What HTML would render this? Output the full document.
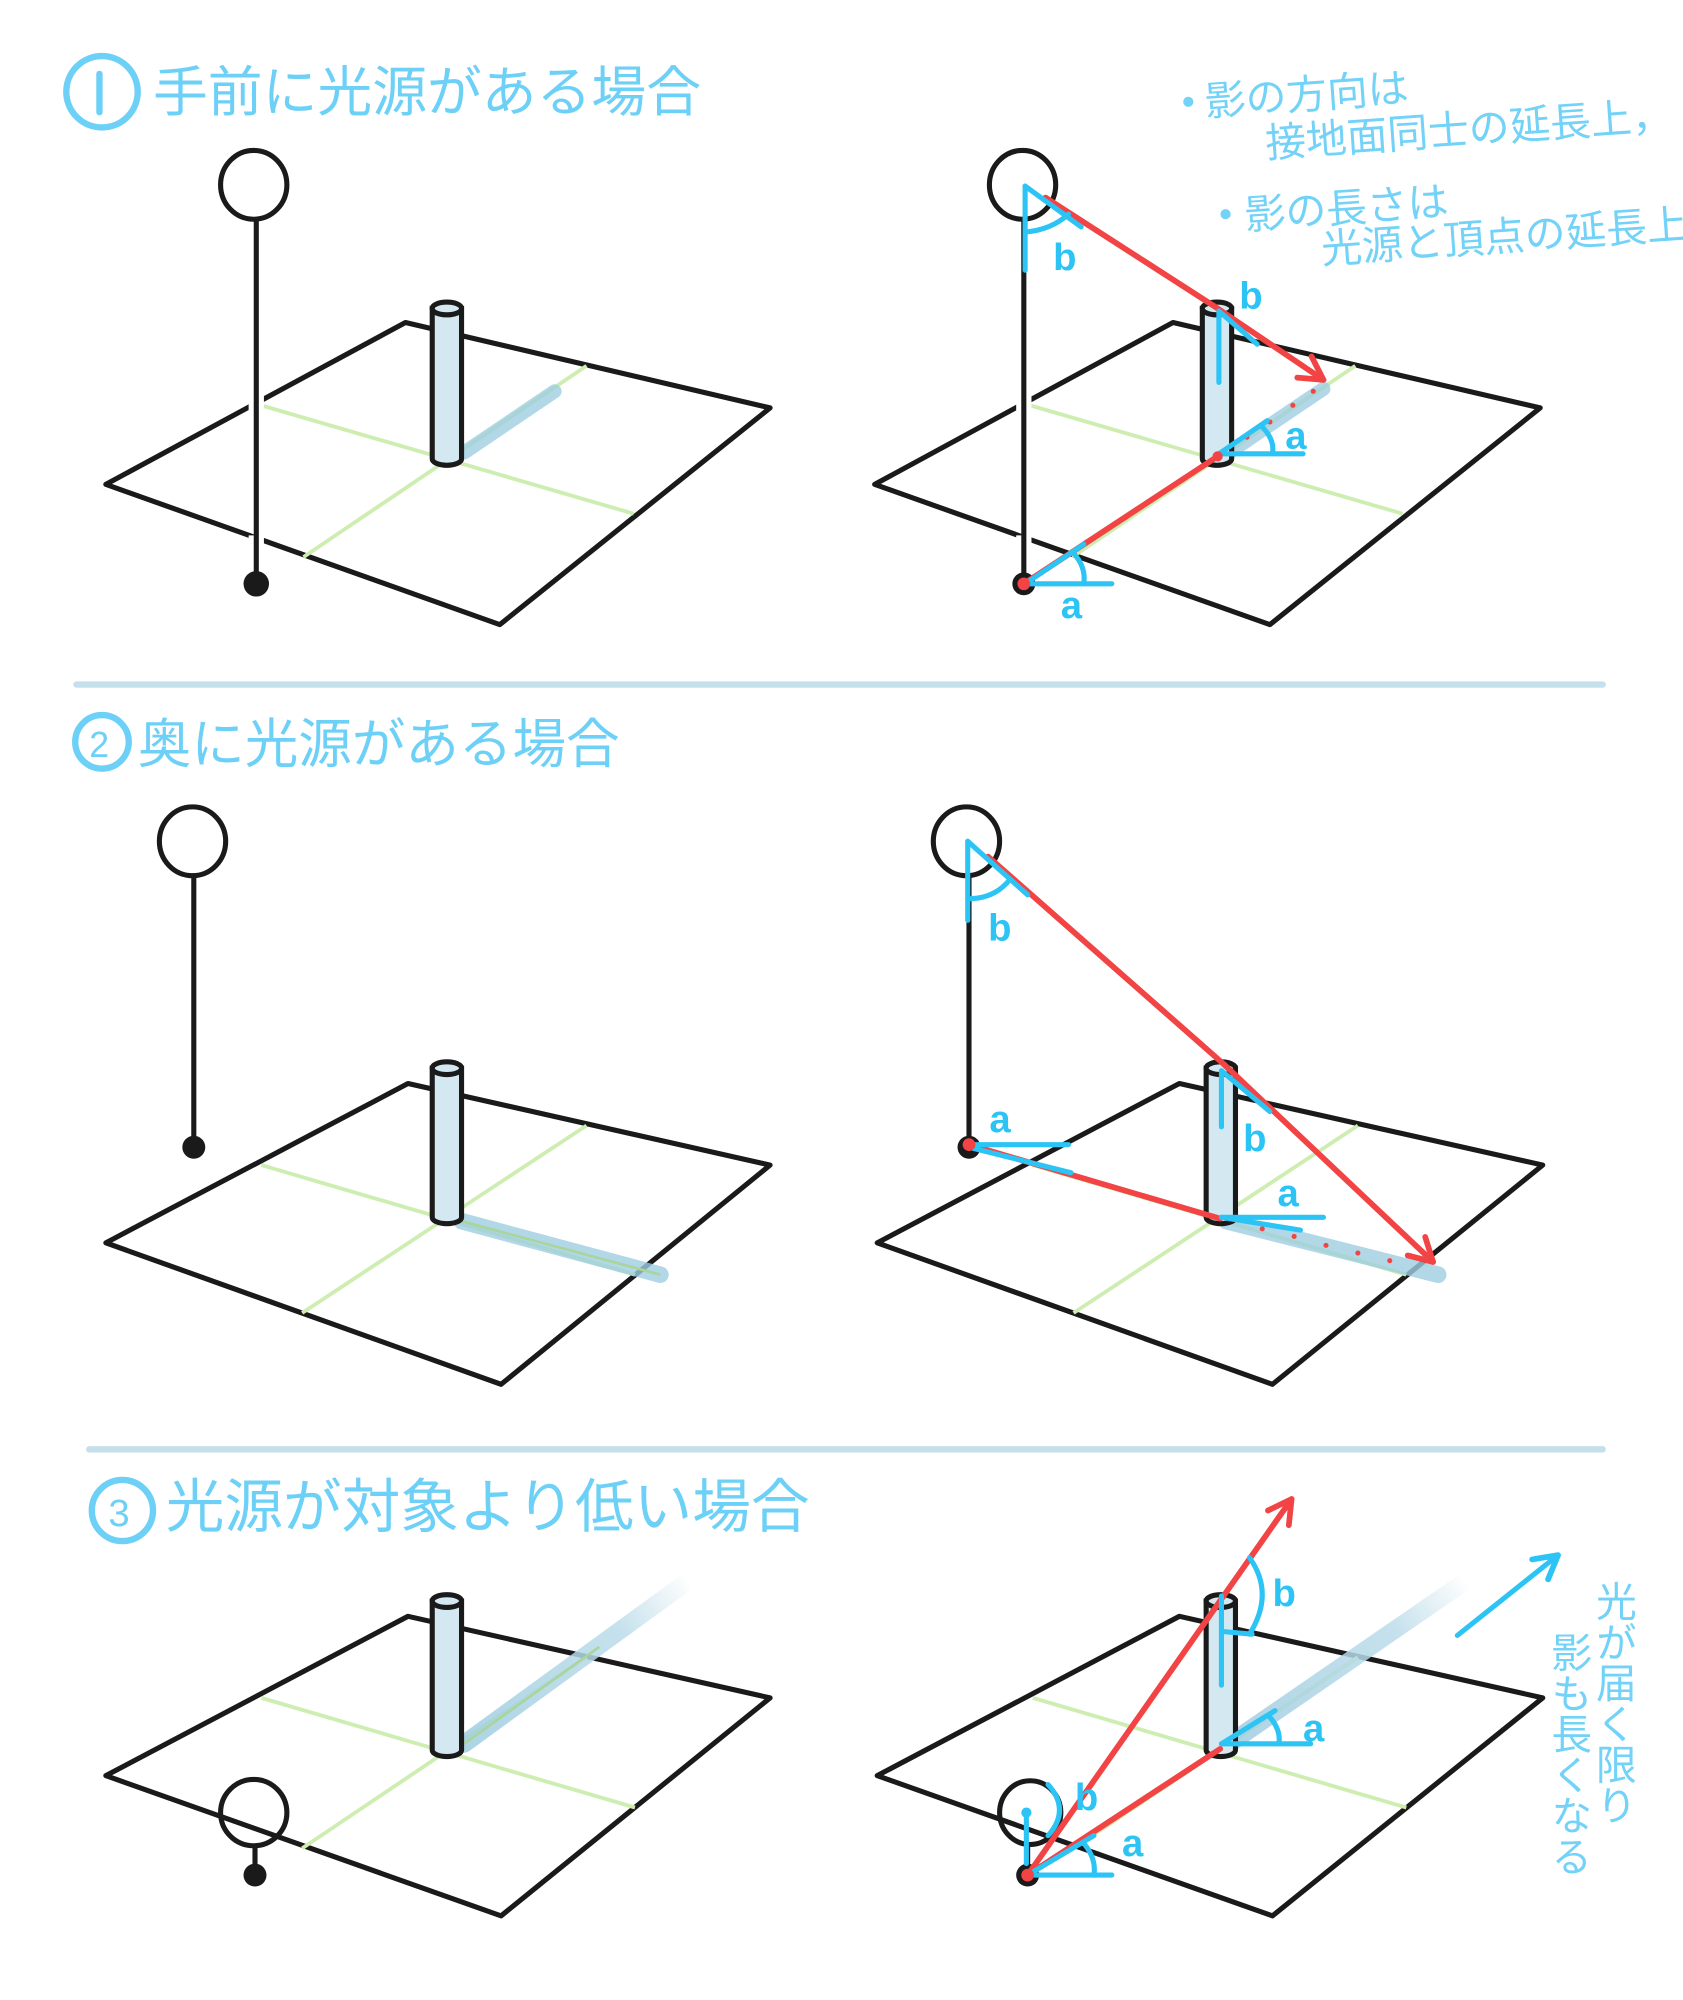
<!DOCTYPE html>
<html><head><meta charset="utf-8"><style>
html,body{margin:0;padding:0;background:#fff;}
svg{display:block;}
.t{font-family:"Liberation Sans","Noto Sans CJK JP",sans-serif;fill:#6dd0f7;font-weight:normal;}
.n{font-family:"Liberation Sans","Noto Sans CJK JP",sans-serif;fill:#72d2f7;}
.k{fill:none;stroke:#1a1a1a;stroke-width:4;stroke-linejoin:round;stroke-linecap:round;}
.g{stroke:#cdeeb0;stroke-width:3;fill:none;}
.r{stroke:#f24444;stroke-width:4.5;fill:none;stroke-linecap:round;}
.b{stroke:#2cc3f5;stroke-width:4;fill:none;stroke-linecap:round;}
.bl{font-family:"Liberation Sans",sans-serif;fill:#2cc3f5;font-size:30px;font-weight:bold;}
.sh{stroke:#9fcde0;stroke-linecap:round;fill:none;opacity:.8;}
.cyl{fill:#d3e8f0;stroke:#1a1a1a;stroke-width:4;}
</style></head><body>
<svg width="1683" height="2000" viewBox="0 0 1320 1569" preserveAspectRatio="none" xmlns="http://www.w3.org/2000/svg">
<defs>
<marker id="ar" markerWidth="26" markerHeight="26" refX="22" refY="13" orient="auto" markerUnits="userSpaceOnUse" viewBox="0 0 26 26">
<path d="M4,3 L22,13 L4,23" fill="none" stroke="#f24444" stroke-width="4.5" stroke-linecap="round" stroke-linejoin="round"/></marker>
<marker id="ab" markerWidth="26" markerHeight="26" refX="22" refY="13" orient="auto" markerUnits="userSpaceOnUse" viewBox="0 0 26 26">
<path d="M4,3 L22,13 L4,23" fill="none" stroke="#2cc3f5" stroke-width="4.5" stroke-linecap="round" stroke-linejoin="round"/></marker>
<linearGradient id="fade1" x1="362" y1="1370" x2="540" y2="1240" gradientUnits="userSpaceOnUse"><stop offset="0" stop-color="#9fcde0"/><stop offset="0.7" stop-color="#bcdcea"/><stop offset="1" stop-color="#fff"/></linearGradient>
<linearGradient id="fade2" x1="962" y1="1370" x2="1150" y2="1240" gradientUnits="userSpaceOnUse"><stop offset="0" stop-color="#9fcde0"/><stop offset="0.7" stop-color="#bcdcea"/><stop offset="1" stop-color="#fff"/></linearGradient>
</defs>

<circle cx="80" cy="72" r="28" fill="none" stroke="#6dd0f7" stroke-width="5"/>
<line x1="78" y1="58" x2="78" y2="88" stroke="#6dd0f7" stroke-width="5" stroke-linecap="round"/>
<text class="t" x="120" y="87" font-size="43">手前に光源がある場合</text>

<circle cx="80" cy="582" r="21" fill="none" stroke="#6dd0f7" stroke-width="5"/>
<text class="t" x="70" y="594" font-size="28">2</text>
<text class="t" x="108" y="598" font-size="42">奥に光源がある場合</text>

<circle cx="96" cy="1185" r="24" fill="none" stroke="#6dd0f7" stroke-width="5"/>
<text class="t" x="85" y="1197" font-size="30">3</text>
<text class="t" x="130" y="1198" font-size="46">光源が対象より低い場合</text>

<line x1="60" y1="537" x2="1257" y2="537" stroke="#c5e0ea" stroke-width="5" stroke-linecap="round"/>
<line x1="70" y1="1137" x2="1257" y2="1137" stroke="#c5e0ea" stroke-width="5" stroke-linecap="round"/>

<!-- Panel 1 left -->
<polygon class="k" points="83,380 318,253 604,320 392,490"/>
<line class="g" x1="205" y1="318" x2="497" y2="403"/>
<line class="g" x1="238" y1="437" x2="460" y2="287"/>
<line class="sh" x1="364" y1="355" x2="435" y2="307" stroke-width="11"/>
<rect x="195" y="300" width="12" height="26" fill="#fff"/>
<rect x="195" y="420" width="12" height="26" fill="#fff"/>
<line x1="201" y1="172" x2="201" y2="457" stroke="#1a1a1a" stroke-width="4"/>
<circle cx="201" cy="458" r="10" fill="#1a1a1a"/>
<ellipse class="k" cx="199" cy="145" rx="26" ry="27" fill="#fff"/>
<path class="cyl" d="M339,242 L339,360 A11.5,5 0 0 0 362,360 L362,242 Z"/>
<ellipse cx="350.5" cy="242" rx="11.5" ry="5" class="cyl"/>

<!-- Panel 1 right -->
<polygon class="k" points="686,380 920,253 1208,320 996,490"/>
<line class="g" x1="808" y1="318" x2="1100" y2="403"/>
<line class="g" x1="841" y1="437" x2="1063" y2="287"/>
<line class="sh" x1="964" y1="355" x2="1038" y2="305" stroke-width="11"/>
<rect x="797" y="300" width="12" height="26" fill="#fff"/>
<rect x="797" y="420" width="12" height="26" fill="#fff"/>
<line x1="803" y1="172" x2="803" y2="457" stroke="#1a1a1a" stroke-width="4"/>
<circle cx="803" cy="458" r="9" fill="#1a1a1a"/>
<ellipse class="k" cx="802" cy="145" rx="26" ry="27" fill="#fff"/>
<path class="cyl" d="M943,242 L943,360 A11.5,5 0 0 0 966,360 L966,242 Z"/>
<ellipse cx="954.5" cy="242" rx="11.5" ry="5" class="cyl"/>
<line class="r" x1="820" y1="155" x2="952" y2="240"/>
<line class="r" x1="952" y1="240" x2="1038" y2="298" marker-end="url(#ar)"/>
<line class="r" x1="803" y1="458" x2="955" y2="358"/>
<g fill="#f24444"><circle cx="978" cy="343" r="2"/><circle cx="996" cy="331" r="2"/><circle cx="1014" cy="318" r="2"/><circle cx="1030" cy="307" r="2"/></g>
<line class="b" x1="804" y1="146" x2="804" y2="212"/>
<line class="b" x1="804" y1="146" x2="848" y2="178"/>
<path class="b" d="M805,182 Q825,180 838,168"/>
<text class="bl" x="826" y="212">b</text>
<line class="b" x1="956" y1="244" x2="956" y2="300"/>
<line class="b" x1="956" y1="244" x2="986" y2="270"/>
<text class="bl" x="972" y="242">b</text>
<line class="b" x1="956" y1="356" x2="1022" y2="356"/>
<line class="b" x1="956" y1="356" x2="994" y2="330"/>
<path class="b" d="M990,335 Q1000,345 998,356"/>
<text class="bl" x="1008" y="352">a</text>
<line class="b" x1="804" y1="458" x2="872" y2="458"/>
<line class="b" x1="804" y1="458" x2="850" y2="427"/>
<path class="b" d="M842,434 Q852,445 850,458"/>
<text class="bl" x="832" y="485">a</text>
<circle cx="803" cy="458" r="5" fill="#f24444"/>
<circle cx="955" cy="358" r="4" fill="#f24444"/>

<g transform="rotate(-4 930 80)">
<circle cx="932" cy="80" r="4" fill="#72d2f7"/>
<text class="n" x="945" y="92" font-size="32">影の方向は</text>
<text class="n" x="990" y="128" font-size="32">接地面同士の延長上，</text>
<circle cx="955" cy="170" r="4" fill="#72d2f7"/>
<text class="n" x="970" y="183" font-size="32">影の長さは</text>
<text class="n" x="1028" y="214" font-size="32">光源と頂点の延長上</text>
</g>

<!-- Panel 2 left -->
<polygon class="k" points="83,975 320,850 604,914 393,1086"/>
<line class="g" x1="205" y1="914" x2="498" y2="1000"/>
<line class="g" x1="237" y1="1030" x2="460" y2="883"/>
<line class="sh" x1="362" y1="958" x2="518" y2="1000" stroke-width="13" stroke="#b6d8e6"/>
<line x1="362" y1="958" x2="518" y2="1000" stroke="#a9d59a" stroke-width="2"/>
<line x1="152" y1="687" x2="152" y2="898" stroke="#1a1a1a" stroke-width="4"/>
<circle cx="152" cy="900" r="9" fill="#1a1a1a"/>
<ellipse class="k" cx="151" cy="660" rx="26" ry="27" fill="#fff"/>
<path class="cyl" d="M339,838 L339,955 A11.5,5 0 0 0 362,955 L362,838 Z"/>
<ellipse cx="350.5" cy="838" rx="11.5" ry="5" class="cyl"/>

<!-- Panel 2 right -->
<polygon class="k" points="688,975 925,850 1210,914 998,1086"/>
<line class="g" x1="810" y1="914" x2="1103" y2="1000"/>
<line class="g" x1="842" y1="1030" x2="1065" y2="883"/>
<line class="sh" x1="962" y1="958" x2="1128" y2="1000" stroke-width="13" stroke="#b6d8e6"/>
<line x1="760" y1="687" x2="760" y2="898" stroke="#1a1a1a" stroke-width="4"/>
<circle cx="760" cy="900" r="9" fill="#1a1a1a"/>
<ellipse class="k" cx="758" cy="660" rx="26" ry="27" fill="#fff"/>
<path class="cyl" d="M946,838 L946,955 A11.5,5 0 0 0 969,955 L969,838 Z"/>
<ellipse cx="957.5" cy="838" rx="11.5" ry="5" class="cyl"/>
<line class="r" x1="775" y1="672" x2="960" y2="835"/>
<line class="r" x1="960" y1="835" x2="1124" y2="990" marker-end="url(#ar)"/>
<line class="r" x1="760" y1="898" x2="957" y2="956"/>
<g fill="#f24444"><circle cx="990" cy="964" r="2"/><circle cx="1015" cy="970" r="2"/><circle cx="1040" cy="977" r="2"/><circle cx="1065" cy="983" r="2"/><circle cx="1090" cy="989" r="2"/></g>
<line class="b" x1="759" y1="660" x2="759" y2="722"/>
<line class="b" x1="759" y1="660" x2="806" y2="702"/>
<path class="b" d="M760,705 Q780,705 792,690"/>
<text class="bl" x="775" y="738">b</text>
<line class="b" x1="958" y1="840" x2="958" y2="884"/>
<line class="b" x1="958" y1="840" x2="996" y2="872"/>
<text class="bl" x="975" y="903">b</text>
<line class="b" x1="760" y1="898" x2="838" y2="898"/>
<line class="b" x1="760" y1="900" x2="840" y2="920"/>
<text class="bl" x="776" y="888">a</text>
<line class="b" x1="958" y1="955" x2="1038" y2="955"/>
<line class="b" x1="958" y1="955" x2="1020" y2="965"/>
<text class="bl" x="1002" y="946">a</text>
<circle cx="760" cy="898" r="5" fill="#f24444"/>

<!-- Panel 3 left -->
<polygon class="k" points="83,1393 320,1268 604,1332 393,1503"/>
<line class="g" x1="205" y1="1332" x2="498" y2="1418"/>
<line class="g" x1="237" y1="1450" x2="460" y2="1300"/>
<line x1="364" y1="1368" x2="540" y2="1240" stroke="url(#fade1)" stroke-width="14" stroke-linecap="round" opacity=".85"/>
<line x1="364" y1="1368" x2="470" y2="1292" stroke="#a9d59a" stroke-width="2"/>
<path class="cyl" d="M339,1256 L339,1373 A11.5,5 0 0 0 362,1373 L362,1256 Z"/>
<ellipse cx="350.5" cy="1256" rx="11.5" ry="5" class="cyl"/>
<line x1="200" y1="1448" x2="200" y2="1470" stroke="#1a1a1a" stroke-width="4"/>
<circle cx="200" cy="1471" r="9" fill="#1a1a1a"/>
<ellipse class="k" cx="199" cy="1422" rx="26" ry="26" fill="#fff"/>

<!-- Panel 3 right -->
<polygon class="k" points="688,1393 925,1268 1210,1332 998,1503"/>
<line class="g" x1="810" y1="1332" x2="1103" y2="1418"/>
<line class="g" x1="842" y1="1450" x2="1065" y2="1300"/>
<line x1="964" y1="1368" x2="1150" y2="1240" stroke="url(#fade2)" stroke-width="14" stroke-linecap="round" opacity=".85"/>
<path class="cyl" d="M946,1256 L946,1373 A11.5,5 0 0 0 969,1373 L969,1256 Z"/>
<ellipse cx="957.5" cy="1256" rx="11.5" ry="5" class="cyl"/>
<line x1="806" y1="1448" x2="806" y2="1470" stroke="#1a1a1a" stroke-width="4"/>
<circle cx="806" cy="1471" r="9" fill="#1a1a1a"/>
<ellipse class="k" cx="808" cy="1422" rx="24" ry="25" fill="#fff"/>
<line class="r" x1="806" y1="1471" x2="1013" y2="1176" marker-end="url(#ar)"/>
<line class="r" x1="806" y1="1471" x2="957" y2="1372"/>
<line x1="1143" y1="1283" x2="1222" y2="1220" stroke="#2cc3f5" stroke-width="4" stroke-linecap="round" marker-end="url(#ab)"/>
<line class="b" x1="958" y1="1252" x2="958" y2="1322"/>
<path class="b" d="M980,1222 Q1000,1250 980,1282"/>
<line class="b" x1="960" y1="1280" x2="982" y2="1282"/>
<text class="bl" x="998" y="1260">b</text>
<line class="b" x1="805" y1="1422" x2="805" y2="1462"/>
<path class="b" d="M822,1400 Q840,1420 822,1440"/>
<text class="bl" x="843" y="1420">b</text>
<line class="b" x1="806" y1="1471" x2="872" y2="1471"/>
<line class="b" x1="806" y1="1471" x2="858" y2="1440"/>
<path class="b" d="M850,1446 Q860,1458 858,1471"/>
<text class="bl" x="880" y="1456">a</text>
<line class="b" x1="958" y1="1368" x2="1028" y2="1368"/>
<line class="b" x1="958" y1="1368" x2="1000" y2="1342"/>
<path class="b" d="M995,1346 Q1005,1357 1003,1368"/>
<text class="bl" x="1022" y="1366">a</text>
<circle cx="806" cy="1471" r="5" fill="#f24444"/>
<circle cx="805" cy="1422" r="4" fill="#2cc3f5"/>

<text class="n" font-size="32" x="1265" y="1240" style="writing-mode:vertical-rl">光が届く限り</text>
<text class="n" font-size="32" x="1230" y="1280" style="writing-mode:vertical-rl">影も長くなる</text>
</svg>
</body></html>
